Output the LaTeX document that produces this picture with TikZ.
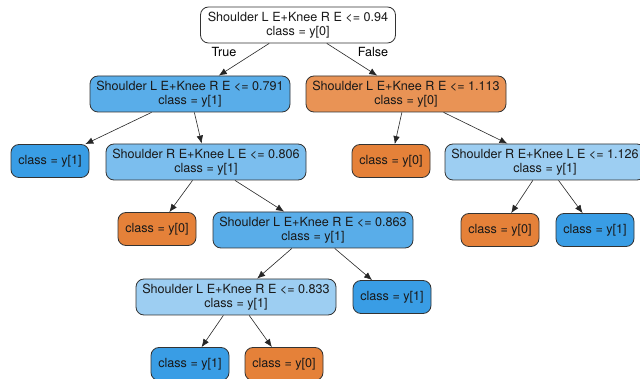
\documentclass[tikz,border=0pt]{standalone}
\usepackage{fontspec}
\setmainfont{TeX Gyre Heros}
\usetikzlibrary{arrows.meta}
\definecolor{orangeleaf}{HTML}{E58139}
\definecolor{blueleaf}{HTML}{399DE5}
\definecolor{orangemid}{HTML}{E99355}
\definecolor{bluedark}{HTML}{59ADE9}
\definecolor{bluemid}{HTML}{7BBEEE}
\definecolor{bluelight}{HTML}{9DCEF2}
\begin{document}
\begin{tikzpicture}[x=1pt,y=-1pt,
  tnode/.style={draw=black!80, rounded corners=8pt, line width=0.8pt, align=center,
    font=\fontsize{12.6}{14.5}\selectfont, inner xsep=6pt, inner ysep=2pt, text=black!90},
  split/.style={tnode, minimum width=200pt, minimum height=36pt},
  leaf/.style={tnode, minimum width=78pt, minimum height=33pt},
  edge/.style={-{Latex[length=8pt,width=6.5pt]}, draw=black!85, line width=0.6pt}]
\useasboundingbox (0,0) rectangle (640,379);
\clip (0,0) rectangle (640,379);
\fill[white] (0,0) rectangle (640,379);
% splits
\node[split, minimum width=195pt, fill=white] (t094) at (298,25) {Shoulder L E+Knee R E <= 0.94\\class = y[0]};
\node[split, fill=bluedark] (t0791) at (190,94) {Shoulder L E+Knee R E <= 0.791\\class = y[1]};
\node[split, fill=orangemid] (t1113) at (406,94) {Shoulder L E+Knee R E <= 1.113\\class = y[0]};
\node[split, fill=bluemid] (t0806) at (206,162) {Shoulder R E+Knee L E <= 0.806\\class = y[1]};
\node[split, fill=bluelight, inner xsep=4pt] (t1126) at (545,162) {Shoulder R E+Knee L E <= 1.126\\class = y[1]};
\node[split, fill=bluedark] (t0863) at (313,230) {Shoulder L E+Knee R E <= 0.863\\class = y[1]};
\node[split, fill=bluelight] (t0833) at (236,297) {Shoulder L E+Knee R E <= 0.833\\class = y[1]};
% leaves
\node[leaf, fill=blueleaf] (leafa) at (50,161) {class = y[1]};
\node[leaf, fill=orangeleaf] (leafb) at (391,161) {class = y[0]};
\node[leaf, fill=orangeleaf] (leafc) at (157,229) {class = y[0]};
\node[leaf, fill=orangeleaf] (leafd) at (500,230) {class = y[0]};
\node[leaf, fill=blueleaf] (leafe) at (595,230) {class = y[1]};
\node[leaf, fill=blueleaf] (leaff) at (392,297) {class = y[1]};
\node[leaf, fill=blueleaf] (leafg) at (190,364) {class = y[1]};
\node[leaf, fill=orangeleaf] (leafh) at (284,364) {class = y[0]};
% edges
\draw[edge] (t094) -- (t0791);
\draw[edge] (t094) -- (t1113);
\node[font=\fontsize{12.6}{14.5}\selectfont] (truelbl) at (224,52) {True};
\node[font=\fontsize{12.6}{14.5}\selectfont] (falselbl) at (373,52) {False};
\draw[edge] (t0791) -- (leafa);
\draw[edge] (t0791) -- (t0806);
\draw[edge] (t1113) -- (leafb);
\draw[edge] (t1113) -- (t1126);
\draw[edge] (t0806) -- (leafc);
\draw[edge] (t0806) -- (t0863);
\draw[edge] (t1126) -- (leafd);
\draw[edge] (t1126) -- (leafe);
\draw[edge] (t0863) -- (t0833);
\draw[edge] (t0863) -- (leaff);
\draw[edge] (t0833) -- (leafg);
\draw[edge] (t0833) -- (leafh);
\end{tikzpicture}
\end{document}
